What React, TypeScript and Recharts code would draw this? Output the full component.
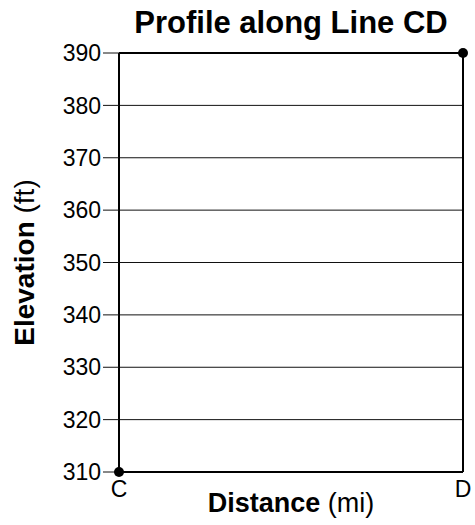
import React from "react";
import {
  CartesianGrid,
  Label,
  ReferenceLine,
  Scatter,
  ScatterChart,
  XAxis,
  YAxis,
} from "recharts";

const stations = ["C", "D"];
const distance = [0, 1];
const elevation = [310, 390];
const elevationTicks = [310, 320, 330, 340, 350, 360, 370, 380, 390];

const points = stations.map((name, i) => ({ name, x: distance[i], y: elevation[i] }));

const font = '"Liberation Sans", Arial, Helvetica, sans-serif';

function XTitle({ viewBox }: any) {
  const cx = viewBox.x + viewBox.width / 2;
  return (
    <text x={cx} y={viewBox.y + 40} textAnchor="middle" fontSize={27} fill="#000" fontFamily={font}>
      <tspan fontWeight="bold">Distance</tspan>
      <tspan> (mi)</tspan>
    </text>
  );
}

function YTitle({ viewBox }: any) {
  const cx = viewBox.x + 34;
  const cy = viewBox.y + viewBox.height / 2;
  return (
    <text
      transform={`translate(${cx},${cy}) rotate(-90)`}
      textAnchor="middle"
      fontSize={28}
      fill="#000"
      fontFamily={font}
    >
      <tspan fontWeight="bold">Elevation</tspan>
      <tspan> (ft)</tspan>
    </text>
  );
}

function Dot(props: any) {
  return <circle cx={props.cx} cy={props.cy} r={5} fill="#000" />;
}

export default function App() {
  return (
    <div style={{ position: "absolute", left: 0, top: 0, width: 475, height: 525, background: "#fff", fontFamily: font }}>
      <div
        style={{
          position: "absolute",
          left: 119,
          width: 344,
          top: 4,
          textAlign: "center",
          fontSize: 31,
          fontWeight: "bold",
          lineHeight: "38px",
          color: "#000",
        }}
      >
        Profile along Line CD
      </div>
      <ScatterChart width={475} height={525} margin={{ top: 53, right: 12, bottom: 0, left: 0 }}>
        <CartesianGrid vertical={false} stroke="#111" strokeWidth={1} />
        <XAxis
          type="number"
          dataKey="x"
          domain={[0, 1]}
          ticks={distance}
          tickFormatter={(v: number) => stations[distance.indexOf(v)]}
          height={53}
          tickLine={false}
          tickMargin={3}
          axisLine={{ stroke: "#000", strokeWidth: 2 }}
          tick={{ fill: "#000", fontSize: 23, fontFamily: font }}
        >
          <Label content={<XTitle />} />
        </XAxis>
        <YAxis
          type="number"
          dataKey="y"
          domain={[310, 390]}
          ticks={elevationTicks}
          width={119}
          tickSize={16}
          tickMargin={2}
          tickLine={{ stroke: "#111", strokeWidth: 1 }}
          axisLine={{ stroke: "#000", strokeWidth: 2 }}
          tick={{ fill: "#000", fontSize: 23, fontFamily: font }}
        >
          <Label content={<YTitle />} />
        </YAxis>
        <ReferenceLine y={390} stroke="#000" strokeWidth={2} />
        <ReferenceLine x={1} stroke="#000" strokeWidth={2} />
        <Scatter data={points} shape={<Dot />} isAnimationActive={false} />
      </ScatterChart>
    </div>
  );
}
